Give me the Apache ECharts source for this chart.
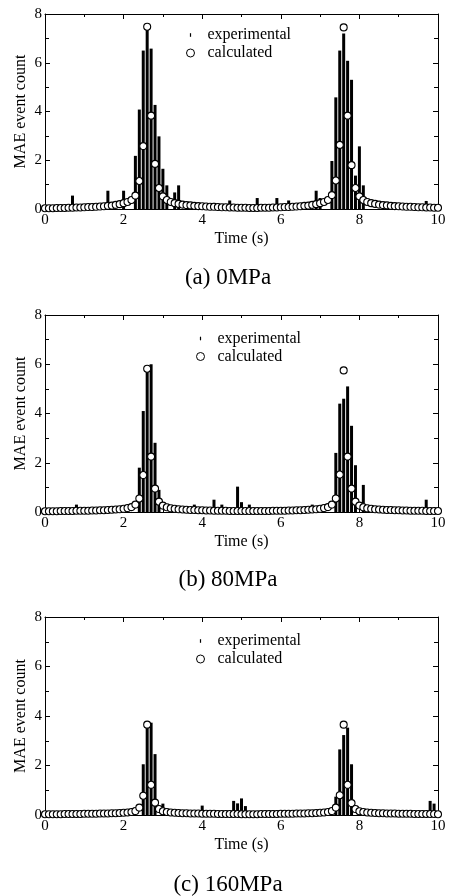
<!DOCTYPE html>
<html>
<head>
<meta charset="utf-8">
<script src="https://cdn.jsdelivr.net/npm/echarts@6/dist/echarts.min.js"></script>
<style>html,body{margin:0;padding:0;background:#fff;}#c{width:449px;height:896px;}</style>
</head>
<body>
<div id="c"></div>
<script>
// Panel captions
const captions = ['(a) 0MPa', '(b) 80MPa', '(c) 160MPa'];
const xTickLabels = ['0', '2', '4', '6', '8', '10'];

// Experimental (bars): times (s) and MAE event counts
const expT1 = [0.7, 1.6, 2.0, 2.3, 2.4, 2.5, 2.6, 2.7, 2.8, 2.9, 3.0, 3.1, 3.3, 3.4, 4.3, 4.7, 5.4, 5.9, 6.2, 6.9, 7.0, 7.3, 7.4, 7.5, 7.6, 7.7, 7.8, 7.9, 8.0, 8.1, 9.7];
const expV1 = [0.55, 0.75, 0.75, 2.18, 4.08, 6.5, 7.37, 6.58, 4.27, 2.98, 1.65, 0.97, 0.68, 0.97, 0.25, 0.35, 0.45, 0.45, 0.35, 0.75, 0.45, 1.97, 4.58, 6.5, 7.2, 6.08, 5.3, 1.37, 2.57, 0.97, 0.33];

const expT2 = [0.8, 2.4, 2.5, 2.6, 2.7, 2.8, 2.9, 3.8, 4.3, 4.5, 4.9, 5.0, 5.2, 6.8, 7.4, 7.5, 7.6, 7.7, 7.8, 7.9, 8.1, 9.7];
const expV2 = [0.3, 1.8, 4.1, 5.7, 6.0, 2.81, 0.9, 0.3, 0.5, 0.3, 1.03, 0.4, 0.3, 0.3, 2.4, 4.4, 4.6, 5.1, 3.5, 1.9, 1.1, 0.5];

const expT3 = [2.5, 2.6, 2.7, 2.8, 3.0, 4.0, 4.8, 4.9, 5.0, 5.1, 7.4, 7.5, 7.6, 7.7, 7.8, 9.8, 9.9];
const expV3 = [2.05, 3.55, 3.73, 2.46, 0.46, 0.38, 0.57, 0.47, 0.67, 0.36, 0.74, 2.65, 3.23, 3.53, 2.05, 0.57, 0.46];

// Calculated (circles): one value every 0.1 s from 0 to 10 s
const calc1 = [
  0.03,0.03,0.03,0.04,0.04,0.04,0.05,0.05,0.06,0.06,
  0.07,0.08,0.08,0.09,0.10,0.11,0.13,0.14,0.17,0.20,
  0.24,0.29,0.37,0.55,1.15,2.58,7.48,3.83,1.85,0.86,
  0.52,0.37,0.29,0.24,0.21,0.18,0.16,0.15,0.13,0.12,
  0.11,0.10,0.09,0.09,0.08,0.07,0.07,0.06,0.06,0.05,
  0.05,0.05,0.04,0.04,0.04,0.05,0.05,0.05,0.06,0.06,
  0.07,0.08,0.08,0.09,0.10,0.11,0.13,0.14,0.17,0.20,
  0.24,0.29,0.37,0.57,1.17,2.63,7.45,3.83,1.80,0.86,
  0.52,0.37,0.29,0.24,0.21,0.18,0.16,0.15,0.13,0.12,
  0.11,0.10,0.09,0.09,0.08,0.07,0.07,0.06,0.06,0.05,
  0.05];
const calc2 = [
  0.03,0.03,0.03,0.03,0.04,0.04,0.04,0.04,0.05,0.05,
  0.05,0.05,0.06,0.06,0.07,0.07,0.08,0.09,0.10,0.11,
  0.13,0.16,0.20,0.30,0.55,1.50,5.82,2.25,0.95,0.42,
  0.26,0.19,0.15,0.13,0.11,0.10,0.09,0.08,0.08,0.07,
  0.07,0.06,0.06,0.05,0.05,0.05,0.05,0.04,0.04,0.04,
  0.04,0.04,0.04,0.04,0.04,0.04,0.04,0.04,0.05,0.05,
  0.05,0.05,0.06,0.06,0.07,0.07,0.08,0.09,0.10,0.11,
  0.13,0.16,0.20,0.30,0.55,1.52,5.75,2.25,0.95,0.42,
  0.26,0.19,0.15,0.13,0.11,0.10,0.09,0.08,0.08,0.07,
  0.07,0.06,0.06,0.05,0.05,0.05,0.05,0.04,0.04,0.04,
  0.04];
const calc3 = [
  0.03,0.03,0.03,0.03,0.03,0.04,0.04,0.04,0.04,0.04,
  0.05,0.05,0.05,0.05,0.06,0.06,0.06,0.07,0.07,0.08,
  0.09,0.10,0.12,0.16,0.30,0.78,3.65,1.22,0.50,0.24,
  0.15,0.12,0.10,0.09,0.08,0.07,0.07,0.06,0.06,0.06,
  0.05,0.05,0.05,0.05,0.04,0.04,0.04,0.04,0.04,0.04,
  0.03,0.03,0.03,0.03,0.03,0.04,0.04,0.04,0.04,0.04,
  0.05,0.05,0.05,0.05,0.06,0.06,0.06,0.07,0.07,0.08,
  0.09,0.10,0.12,0.16,0.30,0.80,3.65,1.22,0.48,0.24,
  0.15,0.12,0.10,0.09,0.08,0.07,0.07,0.06,0.06,0.06,
  0.05,0.05,0.05,0.05,0.04,0.04,0.04,0.04,0.04,0.04,
  0.03];

const FONT = 'Liberation Serif';
const panels = [
  {expT: expT1, expV: expV1, calc: calc1, top: 14, height: 195, legTop: 26.5, legLeft: 186, capY: 278},
  {expT: expT2, expV: expV2, calc: calc2, top: 315, height: 197, legTop: 330, legLeft: 196, capY: 580},
  {expT: expT3, expV: expV3, calc: calc3, top: 617, height: 198, legTop: 632.5, legLeft: 196, capY: 885}
];

const grid = [], xAxis = [], yAxis = [], series = [], legend = [], graphic = [];
const lineStyle = {color: '#000', width: 1};

panels.forEach((p, i) => {
  grid.push({left: 45, width: 393, top: p.top, height: p.height});
  const baseX = {
    type: 'value', gridIndex: i, min: 0, max: 10, interval: 2,
    axisLine: {show: true, onZero: false, lineStyle},
    axisTick: {show: true, inside: true, length: 5, lineStyle},
    minorTick: {show: true, splitNumber: 2, length: 3, lineStyle},
    splitLine: {show: false}, minorSplitLine: {show: false}
  };
  xAxis.push(Object.assign({}, baseX, {
    position: 'bottom',
    axisLabel: {show: true, margin: 4, color: '#000', fontFamily: FONT, fontSize: 15,
      formatter: v => xTickLabels[Math.round(v / 2)]},
    name: 'Time (s)', nameLocation: 'middle', nameGap: 22,
    nameTextStyle: {color: '#000', fontFamily: FONT, fontSize: 16}
  }));
  xAxis.push(Object.assign({}, baseX, {position: 'top', axisLabel: {show: false}}));
  const baseY = {
    type: 'value', gridIndex: i, min: 0, max: 8, interval: 2,
    axisLine: {show: true, onZero: false, lineStyle},
    axisTick: {show: true, inside: true, length: 5, lineStyle},
    minorTick: {show: true, splitNumber: 2, length: 4, lineStyle},
    splitLine: {show: false}, minorSplitLine: {show: false}
  };
  yAxis.push(Object.assign({}, baseY, {
    position: 'left',
    axisLabel: {show: true, margin: 3, color: '#000', fontFamily: FONT, fontSize: 15},
    name: 'MAE event count', nameLocation: 'middle', nameGap: 16, nameMoveOverlap: false,
    nameTextStyle: {color: '#000', fontFamily: FONT, fontSize: 16}
  }));
  yAxis.push(Object.assign({}, baseY, {position: 'right', axisLabel: {show: false}}));

  series.push({
    type: 'bar', name: 'experimental', xAxisIndex: 2 * i, yAxisIndex: 2 * i,
    data: p.expT.map((t, k) => [t, p.expV[k]]),
    barWidth: 3, itemStyle: {color: '#000'}, z: 2
  });
  series.push({
    type: 'scatter', name: 'calculated', xAxisIndex: 2 * i, yAxisIndex: 2 * i,
    data: p.calc.map((v, k) => [k / 10, v]),
    symbol: 'circle', symbolSize: 7, clip: false,
    itemStyle: {color: '#fff', borderColor: '#000', borderWidth: 1.1, opacity: 1}, z: 3
  });

  legend.push({
    orient: 'vertical', left: p.legLeft, top: p.legTop, padding: 0,
    itemWidth: 8, itemHeight: 8, itemGap: 1, selectedMode: false,
    data: [
      {name: 'experimental', icon: 'path://M0,0M8,8M3.4,2.2L4.6,2.2L4.6,5.8L3.4,5.8Z'},
      {name: 'calculated', icon: 'circle', itemStyle: {color: '#fff', borderColor: '#000', borderWidth: 1, opacity: 1}}
    ],
    textStyle: {color: '#000', fontFamily: FONT, fontSize: 16, lineHeight: 17, padding: [0, 0, 0, 8]}
  });

  graphic.push({
    type: 'text', x: 228, y: p.capY,
    style: {text: captions[i], fill: '#000', font: '23px "' + FONT + '"', textAlign: 'center', textVerticalAlign: 'middle'}
  });
});

const chart = echarts.init(document.getElementById('c'), null, {renderer: 'canvas'});
chart.setOption({animation: false, backgroundColor: '#fff', grid, xAxis, yAxis, series, legend, graphic});
</script>
</body>
</html>
